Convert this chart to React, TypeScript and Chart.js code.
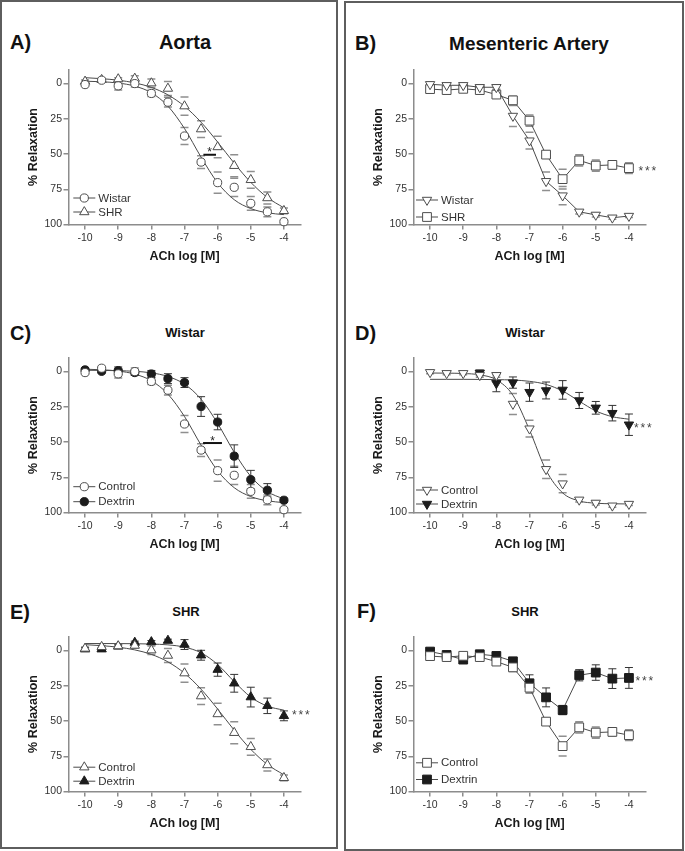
import React, { useEffect, useRef } from 'react';
import { Chart, registerables } from 'chart.js';

Chart.register(...registerables);

const FONT = '"Liberation Sans", Arial, Helvetica, sans-serif';

// ACh concentrations (log M)
const doses = [-10, -9.5, -9, -8.5, -8, -7.5, -7, -6.5, -6, -5.5, -5, -4.5, -4];
const xTickValues = [-10, -9, -8, -7, -6, -5, -4];
const yTickValues = [0, 25, 50, 75, 100];

// Aorta – Wistar (control)
const aortaWistar = [0.7, -2.4, 1.6, 0, 7, 13.2, 37.2, 55.7, 70.3, 73.6, 85, 91, 98];
const aortaWistarSem = [1, 1, 3, 2.5, 2.2, 3.5, 6.1, 4.5, 7.6, 6.5, 4.8, 3.5, 1];
const aortaWistarFit = [-1.7, -1.3, -0.4, 1.8, 6.5, 16.0, 31.9, 52.2, 70.4, 82.4, 88.7, 91.7, 93.0];

// Aorta – SHR (control)
const aortaSHR = [-1.5, -2.7, -3.2, -3.6, -0.3, 3.5, 16, 32.3, 45, 58.3, 68.3, 81.2, 90.3];
const aortaSHRSem = [1, 1, 1, 2, 3, 5, 6.4, 6, 7.6, 7.8, 6, 4.3, 2];
const aortaSHRFit = [-4.2, -3.5, -2.4, -0.5, 2.7, 8.0, 16.1, 27.4, 41.5, 56.5, 70.1, 80.8, 88.2];

// Aorta – Wistar + Dextrin
const aortaWistarDex = [-1.2, -0.2, -0.7, 0.7, 1.7, 5, 7.8, 24.8, 35.8, 60, 76.7, 84.2, 91.3];
const aortaWistarDexSem = [1, 1, 2.6, 2, 2.5, 3.5, 3.5, 7, 5.5, 8, 6.6, 4.7, 1.5];
const aortaWistarDexFit = [-0.94, -0.85, -0.65, -0.2, 0.9, 3.5, 8.9, 19.6, 36.8, 57.2, 74.4, 85.1, 90.5];

// Aorta – SHR + Dextrin
const aortaSHRDex = [-1, -1, -3, -5.7, -6.1, -7.1, -4.3, 3.3, 13.5, 23.2, 33, 39.2, 46.3];
const aortaSHRDexSem = [1, 1, 1, 1, 1, 1, 3.5, 3.5, 4.7, 6.3, 7, 5.5, 3.5];
const aortaSHRDexFit = [-5.0, -5.0, -4.96, -4.88, -4.66, -4.06, -2.45, 1.57, 9.9, 22.0, 33.0, 39.4, 42.3];

// Mesenteric – Wistar (control)
const mesWistar = [0.5, 1.2, 1.2, 2.6, 2.6, 23, 40.5, 69.3, 79.5, 91, 93.2, 95.2, 94];
const mesWistarSem = [1, 1, 1, 1.5, 1.5, 7.5, 6, 6.5, 6.5, 1.5, 1.5, 1, 1];
const mesWistarFit = [1.0, 1.1, 1.35, 2.3, 5.8, 16.8, 41.4, 70.0, 86.1, 91.8, 93.4, 93.8, 93.95];

// Mesenteric – SHR (control)
const mesSHR = [3.9, 4.6, 3.7, 4.6, 7.8, 11.9, 26.3, 50.4, 67.8, 54.5, 58.2, 57.7, 60];
const mesSHRSem = [1.5, 1, 1.5, 1.5, 2, 3, 4, 2.5, 7, 4, 4, 3, 3.8];

// Mesenteric – Wistar + Dextrin
const mesWistarDex = [null, null, null, 0.9, 8.3, 7.8, 14.6, 13.4, 13, 20.5, 25.7, 29.5, 37.7];
const mesWistarDexSem = [null, null, null, 2, 6, 4, 6.5, 6, 6.6, 5.7, 4.5, 5.5, 7.6];
const mesWistarDexFit = [5.5, 5.5, 5.5, 5.55, 5.7, 6.0, 6.9, 9.1, 13.8, 21.0, 27.9, 32.0, 33.8];

// Mesenteric – SHR + Dextrin
const mesSHRDex = [0.7, 3.1, 6.4, 2.6, 3.8, 7.6, 23.2, 33.2, 42.2, 17.5, 15.6, 19.9, 19.4];
const mesSHRDexSem = [1, 1, 1.5, 1.5, 1.5, 2.5, 6, 6.7, 3.3, 4, 5.5, 7, 7.4];

type Marker = 'circle' | 'triangle' | 'invtriangle' | 'square';
type Series = {
  label: string;
  values: (number | null)[];
  sem: (number | null)[];
  fit?: number[];
  marker: Marker;
  filled: boolean;
  connect?: boolean;
};
type Note =
  | { kind: 'stars'; x: number; y: number; dx: number; text: string }
  | { kind: 'bar'; x1: number; x2: number; y: number; text: string };
type PanelDef = {
  id: string;
  letter: string;
  letterX: number;
  letterY: number;
  title: string;
  titleSize: number;
  titleX: number;
  titleY: number;
  areaLeft: number;
  areaTop: number;
  legendX: number;
  legendDy: [number, number];
  series: Series[];
  notes: Note[];
};

const AXIS_W = 64.5;
const AXIS_H = 45.5;
const PAD_TOP = 14.5;
const AREA_W = 232;
const AREA_H = 155;
const CANVAS_W = 330;
const CANVAS_H = PAD_TOP + AREA_H + AXIS_H;

const FILL_DARK = '#1c1c1c';
const STROKE = '#4d4d4d';
const LINE = '#4a4a4a';
const AXIS = '#8c8c8c';
const RADIUS: Record<Marker, number> = { circle: 4.1, triangle: 5.4, invtriangle: 5.4, square: 6.2 };

const panels: PanelDef[] = [
  {
    id: 'A', letter: 'A)', letterX: 10, letterY: 42, title: 'Aorta', titleSize: 20, titleX: 185, titleY: 42,
    areaLeft: 68.5, areaTop: 69.5, legendX: 4.8, legendDy: [-26.5, -12.5],
    series: [
      { label: 'Wistar', values: aortaWistar, sem: aortaWistarSem, fit: aortaWistarFit, marker: 'circle', filled: false },
      { label: 'SHR', values: aortaSHR, sem: aortaSHRSem, fit: aortaSHRFit, marker: 'triangle', filled: false },
    ],
    notes: [{ kind: 'bar', x1: -6.43, x2: -6.05, y: 50.5, text: '*' }],
  },
  {
    id: 'B', letter: 'B)', letterX: 355, letterY: 43, title: 'Mesenteric Artery', titleSize: 19, titleX: 529, titleY: 43,
    areaLeft: 413.5, areaTop: 69.5, legendX: 2.5, legendDy: [-24.5, -7.5],
    series: [
      { label: 'Wistar', values: mesWistar, sem: mesWistarSem, marker: 'invtriangle', filled: false, connect: true },
      { label: 'SHR', values: mesSHR, sem: mesSHRSem, marker: 'square', filled: false, connect: true },
    ],
    notes: [{ kind: 'stars', x: -4, y: 60, dx: 9.5, text: '***' }],
  },
  {
    id: 'C', letter: 'C)', letterX: 10, letterY: 333, title: 'Wistar', titleSize: 13, titleX: 185, titleY: 333,
    areaLeft: 68.5, areaTop: 357.5, legendX: 4.8, legendDy: [-25.8, -10.8],
    series: [
      { label: 'Control', values: aortaWistar, sem: aortaWistarSem, fit: aortaWistarFit, marker: 'circle', filled: false },
      { label: 'Dextrin', values: aortaWistarDex, sem: aortaWistarDexSem, fit: aortaWistarDexFit, marker: 'circle', filled: true },
    ],
    notes: [{ kind: 'bar', x1: -6.44, x2: -5.87, y: 50.7, text: '*' }],
  },
  {
    id: 'D', letter: 'D)', letterX: 355, letterY: 333, title: 'Wistar', titleSize: 13, titleX: 525, titleY: 333,
    areaLeft: 413.5, areaTop: 357.5, legendX: 2.5, legendDy: [-22.5, -8.5],
    series: [
      { label: 'Control', values: mesWistar, sem: mesWistarSem, fit: mesWistarFit, marker: 'invtriangle', filled: false },
      { label: 'Dextrin', values: mesWistarDex, sem: mesWistarDexSem, fit: mesWistarDexFit, marker: 'invtriangle', filled: true },
    ],
    notes: [{ kind: 'stars', x: -4, y: 37.7, dx: 5, text: '***' }],
  },
  {
    id: 'E', letter: 'E)', letterX: 10, letterY: 612, title: 'SHR', titleSize: 13, titleX: 186, titleY: 612,
    areaLeft: 68.5, areaTop: 636, legendX: 4.8, legendDy: [-24.3, -10.3],
    series: [
      { label: 'Control', values: aortaSHR, sem: aortaSHRSem, fit: aortaSHRFit, marker: 'triangle', filled: false },
      { label: 'Dextrin', values: aortaSHRDex, sem: aortaSHRDexSem, fit: aortaSHRDexFit, marker: 'triangle', filled: true },
    ],
    notes: [{ kind: 'stars', x: -4, y: 43.3, dx: 8, text: '***' }],
  },
  {
    id: 'F', letter: 'F)', letterX: 357, letterY: 611, title: 'SHR', titleSize: 13, titleX: 525, titleY: 612,
    areaLeft: 413.5, areaTop: 636, legendX: 2.5, legendDy: [-28.7, -12],
    series: [
      { label: 'Control', values: mesSHR, sem: mesSHRSem, marker: 'square', filled: false, connect: true },
      { label: 'Dextrin', values: mesSHRDex, sem: mesSHRDexSem, marker: 'square', filled: true, connect: true },
    ],
    notes: [{ kind: 'stars', x: -4, y: 19.4, dx: 6.5, text: '***' }],
  },
];

function drawMarker(ctx: CanvasRenderingContext2D, marker: Marker, x: number, y: number, filled: boolean) {
  const r = RADIUS[marker];
  ctx.beginPath();
  if (marker === 'circle') {
    ctx.arc(x, y, r, 0, Math.PI * 2);
  } else if (marker === 'square') {
    const s = r * Math.SQRT1_2;
    ctx.rect(x - s, y - s, 2 * s, 2 * s);
  } else {
    const rot = marker === 'invtriangle' ? Math.PI : 0;
    for (let k = 0; k < 3; k++) {
      const a = rot + (k * 2 * Math.PI) / 3;
      const px = x + Math.sin(a) * r;
      const py = y - Math.cos(a) * r;
      if (k === 0) ctx.moveTo(px, py);
      else ctx.lineTo(px, py);
    }
    ctx.closePath();
  }
  ctx.fillStyle = filled ? FILL_DARK : '#ffffff';
  ctx.fill();
  ctx.strokeStyle = filled ? FILL_DARK : STROKE;
  ctx.lineWidth = 1;
  ctx.stroke();
}

function PanelChart({ panel }: { panel: PanelDef }) {
  const ref = useRef<HTMLCanvasElement | null>(null);

  useEffect(() => {
    if (!ref.current) return;
    const datasets: any[] = [];
    panel.series.forEach((s) => {
      datasets.push({
        type: 'line',
        label: s.label,
        data: doses
          .map((x, i) => ({ x, y: s.values[i] }))
          .filter((p) => p.y !== null && p.y !== undefined),
        showLine: !!s.connect,
        borderColor: LINE,
        borderWidth: 1,
        tension: 0,
        pointStyle: s.marker === 'circle' ? 'circle' : s.marker === 'square' ? 'rect' : 'triangle',
        pointRotation: s.marker === 'invtriangle' ? 180 : 0,
        pointRadius: RADIUS[s.marker],
        pointHoverRadius: RADIUS[s.marker],
        pointBackgroundColor: s.filled ? FILL_DARK : '#ffffff',
        pointBorderColor: s.filled ? FILL_DARK : STROKE,
        pointBorderWidth: 1,
        clip: false,
      });
    });
    panel.series.forEach((s) => {
      if (!s.fit) return;
      datasets.push({
        type: 'line',
        label: s.label + ' fit',
        data: doses.map((x, i) => ({ x, y: s.fit![i] })),
        pointRadius: 0,
        pointHoverRadius: 0,
        borderColor: LINE,
        borderWidth: 1,
        cubicInterpolationMode: 'monotone',
        fill: false,
      });
    });

    const errorPlugin = {
      id: 'semBars',
      beforeDatasetsDraw(chart: any) {
        const ctx: CanvasRenderingContext2D = chart.ctx;
        const xs = chart.scales.x;
        const ys = chart.scales.y;
        ctx.save();
        panel.series.forEach((s) => {
          s.values.forEach((v, i) => {
            const e = s.sem[i];
            if (v === null || e === null || e === undefined) return;
            const px = xs.getPixelForValue(doses[i]);
            const y1 = ys.getPixelForValue(v - e);
            const y2 = ys.getPixelForValue(v + e);
            ctx.strokeStyle = s.filled ? '#333333' : '#8f8f8f';
            ctx.lineWidth = s.filled ? 1 : 1.5;
            ctx.beginPath();
            if (s.filled) {
              ctx.moveTo(px, y1);
              ctx.lineTo(px, y2);
            }
            ctx.moveTo(px - 4, y1);
            ctx.lineTo(px + 4, y1);
            ctx.moveTo(px - 4, y2);
            ctx.lineTo(px + 4, y2);
            ctx.stroke();
          });
        });
        ctx.restore();
      },
    };

    const overlayPlugin = {
      id: 'overlay',
      afterDraw(chart: any) {
        const ctx: CanvasRenderingContext2D = chart.ctx;
        const xs = chart.scales.x;
        const ys = chart.scales.y;
        const area = chart.chartArea;
        ctx.save();
        // legend
        panel.series.forEach((s, k) => {
          const lx = area.left + panel.legendX;
          const ly = area.bottom + panel.legendDy[k];
          ctx.strokeStyle = LINE;
          ctx.lineWidth = 1;
          ctx.beginPath();
          ctx.moveTo(lx, ly);
          ctx.lineTo(lx + 22, ly);
          ctx.stroke();
          drawMarker(ctx, s.marker, lx + 11, ly, s.filled);
          ctx.fillStyle = '#333333';
          ctx.font = `11.5px ${FONT}`;
          ctx.textAlign = 'left';
          ctx.textBaseline = 'middle';
          ctx.fillText(s.label, lx + 25, ly + 0.5);
        });
        // significance notes
        panel.notes.forEach((n) => {
          if (n.kind === 'bar') {
            const x1 = xs.getPixelForValue(n.x1);
            const x2 = xs.getPixelForValue(n.x2);
            const y = ys.getPixelForValue(n.y);
            ctx.strokeStyle = '#111111';
            ctx.lineWidth = 2;
            ctx.beginPath();
            ctx.moveTo(x1, y);
            ctx.lineTo(x2, y);
            ctx.stroke();
            ctx.fillStyle = '#222222';
            ctx.font = `12px ${FONT}`;
            ctx.textAlign = 'center';
            ctx.textBaseline = 'alphabetic';
            ctx.fillText(n.text, (x1 + x2) / 2, y + 1.5);
          } else {
            const x = xs.getPixelForValue(n.x) + n.dx;
            const y = ys.getPixelForValue(n.y);
            ctx.fillStyle = '#444444';
            ctx.font = `12px ${FONT}`;
            ctx.textAlign = 'left';
            ctx.textBaseline = 'alphabetic';
            const chars = n.text.split('');
            chars.forEach((c, k) => ctx.fillText(c, x + k * 6.5, y + 7));
          }
        });
        ctx.restore();
      },
    };

    const tickFont = { family: FONT, size: 10.5 };
    const titleFont = { family: FONT, size: 12.5, weight: 'bold' as const };

    const chart = new Chart(ref.current, {
      type: 'line',
      data: { datasets },
      options: {
        animation: false,
        responsive: false,
        maintainAspectRatio: false,
        devicePixelRatio: 1,
        events: [],
        layout: {
          autoPadding: false,
          padding: { top: PAD_TOP, right: CANVAS_W - AXIS_W - AREA_W, bottom: 0, left: 0 },
        },
        plugins: {
          legend: { display: false },
          tooltip: { enabled: false },
          title: { display: false },
        },
        scales: {
          x: {
            type: 'linear',
            min: -10.5,
            max: -3.5,
            afterBuildTicks: (s: any) => {
              s.ticks = xTickValues.map((v) => ({ value: v }));
            },
            afterFit: (s: any) => {
              s.height = AXIS_H;
            },
            grid: { drawOnChartArea: false, drawTicks: true, tickLength: 5, color: AXIS, lineWidth: 1.5 },
            border: { display: true, color: AXIS, width: 1.5 },
            ticks: {
              font: tickFont,
              color: '#333333',
              padding: 2,
              maxRotation: 0,
              autoSkip: false,
              callback: (v: any) => String(v),
            },
            title: {
              display: true,
              text: 'ACh log [M]',
              font: titleFont,
              color: '#1a1a1a',
              padding: { top: 0, bottom: 6 },
            },
          },
          y: {
            type: 'linear',
            reverse: true,
            min: -10,
            max: 100,
            afterBuildTicks: (s: any) => {
              s.ticks = yTickValues.map((v) => ({ value: v }));
            },
            afterFit: (s: any) => {
              s.width = AXIS_W;
            },
            grid: { drawOnChartArea: false, drawTicks: true, tickLength: 5, color: AXIS, lineWidth: 1.5 },
            border: { display: true, color: AXIS, width: 1.5 },
            ticks: {
              font: tickFont,
              color: '#333333',
              padding: 1.5,
              autoSkip: false,
              callback: (v: any) => String(v),
            },
            title: {
              display: true,
              text: '% Relaxation',
              font: titleFont,
              color: '#1a1a1a',
              padding: { top: 22, bottom: 0 },
            },
          },
        },
      } as any,
      plugins: [errorPlugin, overlayPlugin],
    });
    return () => chart.destroy();
  }, [panel]);

  return (
    <canvas
      ref={ref}
      width={CANVAS_W}
      height={CANVAS_H}
      style={{
        position: 'absolute',
        left: panel.areaLeft - AXIS_W,
        top: panel.areaTop - PAD_TOP,
        width: CANVAS_W,
        height: CANVAS_H,
      }}
    />
  );
}

function Label({ text, cx, cy, size, left }: { text: string; cx: number; cy: number; size: number; left?: boolean }) {
  const lh = Math.round(size * 1.2);
  const style: React.CSSProperties = {
    position: 'absolute',
    top: cy - lh / 2,
    height: lh,
    lineHeight: `${lh}px`,
    fontFamily: FONT,
    fontWeight: 'bold',
    fontSize: size,
    color: '#111111',
    whiteSpace: 'nowrap',
  };
  if (left) {
    style.left = cx;
  } else {
    style.left = cx - 150;
    style.width = 300;
    style.textAlign = 'center';
  }
  return <div style={style}>{text}</div>;
}

export default function App() {
  return (
    <div
      style={{
        position: 'absolute',
        left: 0,
        top: 0,
        width: 685,
        height: 851,
        background: '#ffffff',
        overflow: 'hidden',
      }}
    >
      <div
        style={{
          position: 'absolute',
          left: 0,
          top: 0,
          width: 338,
          height: 849,
          border: '2px solid #5e5e5e',
          boxSizing: 'border-box',
        }}
      />
      <div
        style={{
          position: 'absolute',
          left: 344,
          top: 1,
          width: 340,
          height: 850,
          border: '2px solid #5e5e5e',
          boxSizing: 'border-box',
        }}
      />
      {panels.map((p) => (
        <React.Fragment key={p.id}>
          <Label text={p.letter} cx={p.letterX} cy={p.letterY} size={20} left />
          <Label text={p.title} cx={p.titleX} cy={p.titleY} size={p.titleSize} />
          <PanelChart panel={p} />
        </React.Fragment>
      ))}
    </div>
  );
}
